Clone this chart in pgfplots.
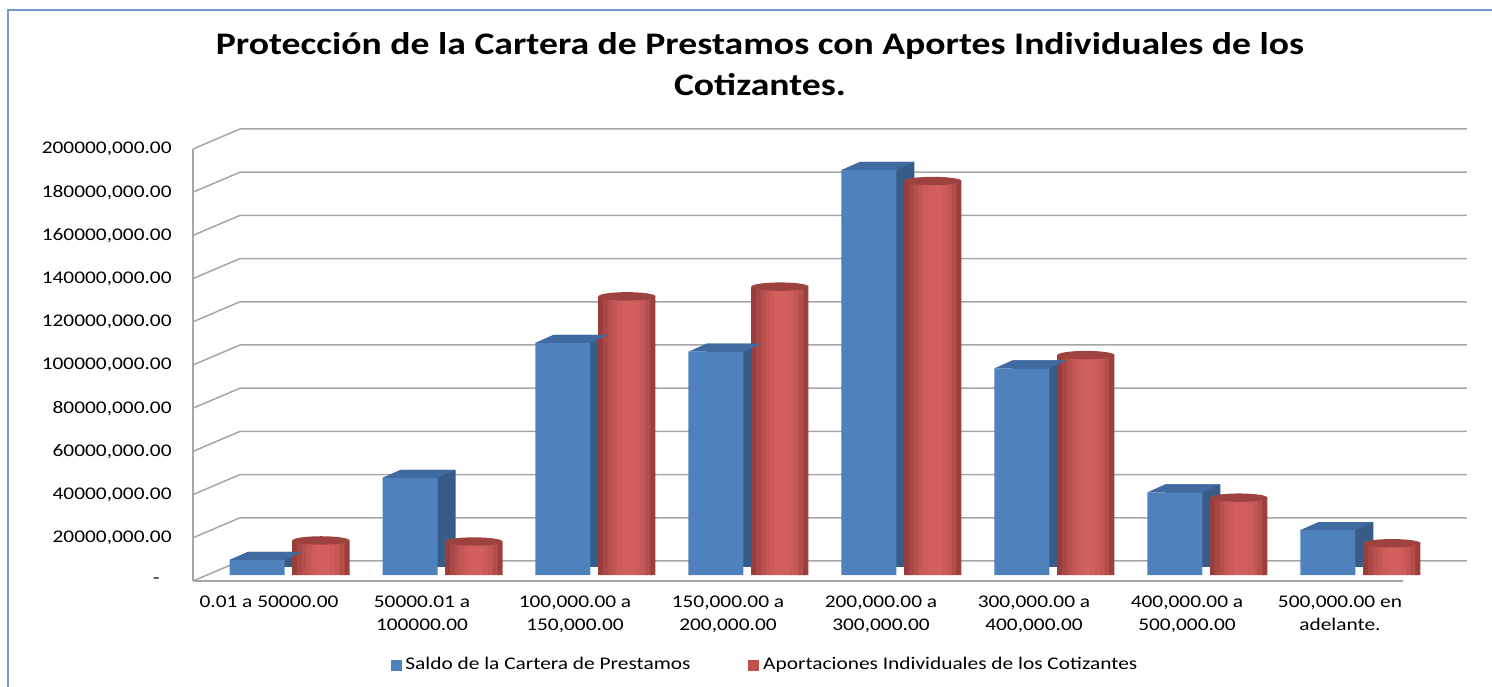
\documentclass[border=0pt]{standalone}
\usepackage{fontspec}
\setmainfont{Carlito}[FakeStretch=1.2]
\usepackage{pgfplots}
\pgfplotsset{compat=1.18}
\usepackage{pgfplotstable}
\definecolor{bfront}{HTML}{4F81BD}
\definecolor{bside}{HTML}{375C87}
\definecolor{btop}{HTML}{406BA0}
\definecolor{rdark}{HTML}{8C3735}
\definecolor{rmid}{HTML}{D3605D}
\definecolor{rtop}{HTML}{9E4240}
\definecolor{rleg}{HTML}{C0504D}
\definecolor{gridc}{HTML}{A6A6A6}
\definecolor{borderc}{HTML}{6E9AD0}

\pgfplotstableread{
x saldo aport
0 7000000 16000000
1 45000000 15500000
2 107500000 129000000
3 103400000 133500000
4 187500000 182400000
5 95700000 101800000
6 38300000 35800000
7 20800000 14700000
}\datatable

\pgfdeclareplotmark{bluetop}{%
  \pgfpathmoveto{\pgfqpoint{-29.75bp}{0bp}}%
  \pgfpathlineto{\pgfqpoint{-2.25bp}{0bp}}%
  \pgfpathlineto{\pgfqpoint{6.75bp}{4bp}}%
  \pgfpathlineto{\pgfqpoint{-20.75bp}{4bp}}%
  \pgfpathclose
  \pgfusepath{fill}}
\pgfdeclareplotmark{redtop}{%
  \pgfpathellipse{\pgfqpoint{16bp}{0bp}}{\pgfqpoint{14.25bp}{0bp}}{\pgfqpoint{0bp}{2.1bp}}%
  \pgfusepath{fill}}

\begin{document}
\begin{tikzpicture}
\useasboundingbox (0bp,0bp) rectangle (746bp,343.5bp);
\begin{scope}[x=0.5bp,y=-0.5bp,shift={(0bp,343.5bp)}]
  % chart border
  \draw[borderc,line width=0.8bp] (8,700) -- (8,10) -- (1500,10);
  % title
  \node[font=\fontsize{15.7bp}{19bp}\selectfont\bfseries,anchor=base] at (760,55) {Protección de la Cartera de Prestamos con Aportes Individuales de los};
  \node[font=\fontsize{15.7bp}{19bp}\selectfont\bfseries,anchor=base] at (760,96) {Cotizantes.};
  % 3D frame
  \foreach \k in {0,...,10}{
    \pgfmathsetmacro{\yb}{561-43.2*\k}
    \pgfmathsetmacro{\yf}{581-43.2*\k}
    \draw[gridc,line width=0.75bp] (193,\yf) -- (240,\yb) -- (1467,\yb);
  }
  \draw[gridc,line width=0.75bp] (193,581) -- (193,149);
  \draw[gridc,line width=0.75bp] (193,581) -- (1403,581);
\end{scope}

\begin{axis}[
  at={(103.5bp,56bp)}, anchor=south west,
  scale only axis, width=613.2bp, height=216bp,
  xmin=-0.536, xmax=7.48, ymin=0, ymax=200000000,
  clip=false,
  scaled y ticks=false,
  axis line style={draw=none},
  tick style={draw=none},
  xtick={0,1,2,3,4,5,6,7},
  xticklabels={{0.01 a 50000.00},{50000.01 a\\100000.00},{100,000.00 a\\150,000.00},{150,000.00 a\\200,000.00},{200,000.00 a\\300,000.00},{300,000.00 a\\400,000.00},{400,000.00 a\\500,000.00},{500,000.00 en\\adelante.}},
  ytick={0,20000000,40000000,60000000,80000000,100000000,120000000,140000000,160000000,180000000,200000000},
  yticklabels={{-\hspace*{6bp}},{20000,000.00},{40000,000.00},{60000,000.00},{80000,000.00},{100000,000.00},{120000,000.00},{140000,000.00},{160000,000.00},{180000,000.00},{200000,000.00}},
  ticklabel style={font=\fontsize{8.9bp}{11.5bp}\selectfont, inner sep=0pt},
  yticklabel style={anchor=east, xshift=-17.5bp, yshift=-3bp},
  xticklabel style={anchor=north, align=center, xshift=-10bp, yshift=-10.5bp},
  legend columns=2,
  legend style={draw=none, fill=none, at={(0.4558,-0.2083)}, anchor=center,
    font=\fontsize{8.9bp}{11bp}\selectfont,
    /tikz/every even column/.append style={column sep=27bp}},
  legend cell align=left,
]
% blue box: side/back copy
\addplot[ybar, bar width=27.5bp, bar shift=-7bp, fill=bside, draw=none, yshift=4bp, forget plot] table[x=x,y=saldo]{\datatable};
% blue front
\addplot[ybar, bar width=27.5bp, bar shift=-16bp, fill=bfront, draw=none, forget plot] table[x=x,y=saldo]{\datatable};
% blue top
\addplot[only marks, mark=bluetop, mark options={fill=btop, draw=none}, forget plot] table[x=x,y=saldo]{\datatable};
% red cylinder body: vertical strips from dark edge to light centre (overlapping)
\addplot[ybar, bar width=3.2bp, bar shift=3.15bp, fill=rmid!15!rdark, draw=none, forget plot] table[x=x,y=aport]{\datatable};
\addplot[ybar, bar width=3.2bp, bar shift=5.5bp, fill=rmid!40!rdark, draw=none, forget plot] table[x=x,y=aport]{\datatable};
\addplot[ybar, bar width=3.2bp, bar shift=7.875bp, fill=rmid!61!rdark, draw=none, forget plot] table[x=x,y=aport]{\datatable};
\addplot[ybar, bar width=3.2bp, bar shift=10.25bp, fill=rmid!78!rdark, draw=none, forget plot] table[x=x,y=aport]{\datatable};
\addplot[ybar, bar width=3.2bp, bar shift=12.625bp, fill=rmid!90!rdark, draw=none, forget plot] table[x=x,y=aport]{\datatable};
\addplot[ybar, bar width=3.2bp, bar shift=15bp, fill=rmid!97!rdark, draw=none, forget plot] table[x=x,y=aport]{\datatable};
\addplot[ybar, bar width=3.2bp, bar shift=17.375bp, fill=rmid, draw=none, forget plot] table[x=x,y=aport]{\datatable};
\addplot[ybar, bar width=3.2bp, bar shift=19.75bp, fill=rmid!97!rdark, draw=none, forget plot] table[x=x,y=aport]{\datatable};
\addplot[ybar, bar width=3.2bp, bar shift=22.125bp, fill=rmid!90!rdark, draw=none, forget plot] table[x=x,y=aport]{\datatable};
\addplot[ybar, bar width=3.2bp, bar shift=24.5bp, fill=rmid!78!rdark, draw=none, forget plot] table[x=x,y=aport]{\datatable};
\addplot[ybar, bar width=3.2bp, bar shift=26.875bp, fill=rmid!55!rdark, draw=none, forget plot] table[x=x,y=aport]{\datatable};
\addplot[ybar, bar width=2.5bp, bar shift=29bp, fill=rmid!22!rdark, draw=none, forget plot] table[x=x,y=aport]{\datatable};
% red top
\addplot[only marks, mark=redtop, mark options={fill=rtop, draw=none}, forget plot] table[x=x,y=aport]{\datatable};

\addlegendimage{legend image code/.code={\fill[bfront] (0bp,-2.5bp) rectangle (5bp,2.5bp);}}
\addlegendentry{Saldo de la Cartera de Prestamos}
\addlegendimage{legend image code/.code={\fill[rleg] (0bp,-2.5bp) rectangle (5bp,2.5bp);}}
\addlegendentry{Aportaciones Individuales de los Cotizantes}
\end{axis}
\end{tikzpicture}
\end{document}
